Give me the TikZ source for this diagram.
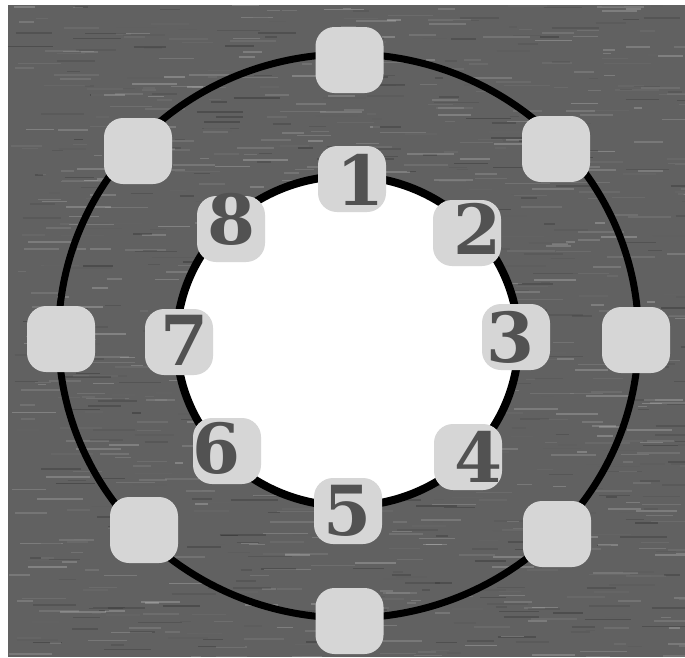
\documentclass[tikz,border=0pt]{standalone}
\usepackage{fontspec}
\newfontfamily\seatfont{DejaVu Serif}
\definecolor{cloth}{gray}{0.38}
\definecolor{seatgray}{gray}{0.84}
\definecolor{numgray}{gray}{0.32}
\begin{document}
\begin{tikzpicture}[x=1pt,y=-1pt,
    seat/.style={fill=seatgray, rounded corners=19pt, minimum width=68pt, minimum height=66pt, inner sep=0pt},
    num/.style={text=numgray, inner sep=0pt, font=\seatfont\bfseries\fontsize{69}{69}\selectfont}]
    \useasboundingbox (0,0) rectangle (685,657);
    \fill[white] (0,0) rectangle (685,657);
    \fill[cloth] (8,5) rectangle (685,657);

    % woven cloth
    \pgfmathsetseed{11}
    \begin{scope}
    \clip (8,5) rectangle (685,657);
    \foreach \i in {1,...,1200}{
        \pgfmathsetmacro{\px}{8+677*rnd}
        \pgfmathsetmacro{\py}{5+652*rnd}
        \pgfmathsetmacro{\len}{8+40*rnd}
        \pgfmathsetmacro{\shade}{100*rnd}
        \draw[black!\shade!white, opacity=0.22, line width=1.6pt] (\px,\py) -- ++(\len,0);
    }
    \end{scope}

    % table rings
    \draw[line width=7pt] (348.5,336) ellipse [x radius=290, y radius=282];
    \draw[line width=8pt, fill=white] (347.5,341) ellipse [x radius=171, y radius=165];

    % outer seats
    \node[seat] (s1) at (349.5,60) {};
    \node[seat] (s2) at (556,149) {};
    \node[seat] (s3) at (636,340) {};
    \node[seat] (s4) at (557,534) {};
    \node[seat] (s5) at (349.5,621) {};
    \node[seat] (s6) at (144,530) {};
    \node[seat] (s7) at (61,339) {};
    \node[seat] (s8) at (138,151) {};

    % numbered seats
    \node[seat] (t1) at (352,179) {};
    \node[seat] (t2) at (467,233) {};
    \node[seat] (t3) at (516,337) {};
    \node[seat] (t4) at (468,457) {};
    \node[seat] (t5) at (348,511) {};
    \node[seat] (t6) at (227,451) {};
    \node[seat] (t7) at (179,342) {};
    \node[seat] (t8) at (231,229) {};

    \node[num] (d1) at ([xshift=9pt,yshift=-1pt]t1.center) {1};
    \node[num] (d2) at ([xshift=10pt,yshift=4pt]t2.center) {2};
    \node[num] (d3) at ([xshift=-6pt]t3.center) {3};
    \node[num] (d4) at ([xshift=10pt]t4.center) {4};
    \node[num] (d5) at (t5.center) {5};
    \node[num] (d6) at ([xshift=-10pt,yshift=3pt]t6.center) {6};
    \node[num] (d7) at ([xshift=6pt,yshift=2pt]t7.center) {7};
    \node[num] (d8) at ([xshift=1pt,yshift=10pt]t8.center) {8};
\end{tikzpicture}
\end{document}
